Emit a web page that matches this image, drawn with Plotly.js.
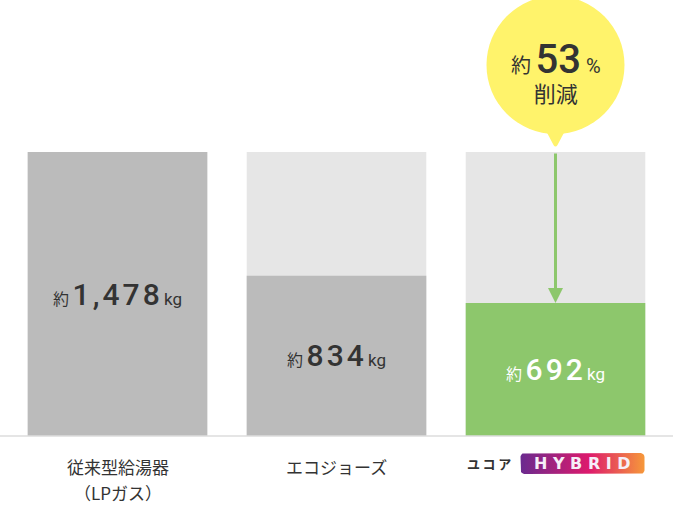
<!DOCTYPE html>
<html>
<head>
<meta charset="utf-8">
<script src="https://cdn.plot.ly/plotly-3.0.1.min.js"></script>
<style>html,body{margin:0;padding:0;background:#fff;}#chart{width:673px;height:505px;}</style>
</head>
<body>
<div id="chart"></div>
<script>
// ---- data ----
const categories = ['従来型給湯器', 'エコジョーズ', 'ユコア HYBRID'];
const categorySub = ['（LPガス）', '', ''];
const emissionsKg = [1478, 834, 692];          // CO2 emissions, kg (approx.)
const labelPrefix = '約';
const labelUnit = 'kg';
const reductionPct = 53;                        // 約53%削減
const reductionText = '削減';
const badgeText = 'HYBRID';
const badgeBrand = 'ユコア';

// ---- styling ----
const JP = '"Noto Sans CJK JP", "Noto Sans", sans-serif';
const txt = '#333333';
const barColors = ['#bbbbbb', '#bbbbbb', '#8dc76c'];
const labelColors = ['#333333', '#333333', '#ffffff'];
const bgColor = '#e6e6e6';

const xs = categories.map((_, i) => i);
const maxV = Math.max(...emissionsKg);
const PX_PER_UNIT = 284 / maxV;     // max bar is 284 px tall
const BASE_PX = 436, H = 505, W = 673;
const yRange = [-(H - BASE_PX) / PX_PER_UNIT, BASE_PX / PX_PER_UNIT];
const xUnitPx = 219, x0px = 117.5;
const xRange = [-x0px / xUnitPx, (W - x0px) / xUnitPx];

const dx = px => px / xUnitPx;
const dy = px => px / PX_PER_UNIT;
const spaced = (s, sp) => s.split('').join(sp);

const bg = {
  type: 'bar', x: xs, y: xs.map(() => maxV), width: 0.82,
  marker: {color: bgColor}, hoverinfo: 'skip', showlegend: false
};
const fg = {
  type: 'bar', x: xs, y: emissionsKg, width: 0.82,
  marker: {color: barColors}, hoverinfo: 'skip', showlegend: false
};

function roundedRect(cx, cy, wPx, hPx, rPx) {
  const X = [], Y = [];
  const corners = [[wPx/2 - rPx, hPx/2 - rPx, 0], [-wPx/2 + rPx, hPx/2 - rPx, 90],
                   [-wPx/2 + rPx, -hPx/2 + rPx, 180], [wPx/2 - rPx, -hPx/2 + rPx, 270]];
  corners.forEach(([ox, oy, a0]) => {
    for (let k = 0; k <= 6; k++) {
      const a = (a0 + k * 15) * Math.PI / 180;
      X.push(cx + dx(ox + rPx * Math.cos(a)));
      Y.push(cy + dy(oy + rPx * Math.sin(a)));
    }
  });
  X.push(X[0]); Y.push(Y[0]);
  return {X, Y};
}
const badgeCx = 2 + dx(27), badgeCy = -dy(27.5);
const rr = roundedRect(badgeCx, badgeCy, 124, 21, 4);
const badge = {
  type: 'scatter', x: rr.X, y: rr.Y, mode: 'lines', fill: 'toself',
  line: {width: 0, color: 'rgba(0,0,0,0)'},
  fillgradient: {type: 'horizontal', colorscale: [[0, '#6a2a8f'], [0.55, '#dd1a6c'], [1, '#f6983a']]},
  hoverinfo: 'skip', showlegend: false
};

const annotations = [];
emissionsKg.forEach((v, i) => {
  annotations.push({
    x: i, y: v / 2, xref: 'x', yref: 'y', showarrow: false,
    text: `<span style="font-size:16px">${labelPrefix} </span><span style="font-family:Roboto;font-size:30px;font-weight:500">${spaced(v.toLocaleString('en-US'), '\u200A')}</span><span style="font-family:Roboto;font-size:17px"> ${labelUnit}</span>`,
    font: {family: JP, color: labelColors[i], size: 16}
  });
});
categories.forEach((c, i) => {
  if (i === 2) return;
  annotations.push({x: i, y: 0, xref: 'x', yref: 'y', yshift: -30, showarrow: false,
    text: c, font: {family: JP, size: 17, color: txt}});
  if (categorySub[i]) annotations.push({x: i, y: 0, xref: 'x', yref: 'y', yshift: -56, showarrow: false,
    text: categorySub[i], font: {family: JP, size: 17, color: txt}});
});
annotations.push({x: 2, y: 0, xref: 'x', yref: 'y', xshift: -67, yshift: -27, showarrow: false,
  text: `<b>${spaced(badgeBrand, '\u2009')}</b>`, font: {family: JP, size: 13, color: '#333333'}});
annotations.push({x: badgeCx, y: badgeCy, xref: 'x', yref: 'y', showarrow: false,
  text: `<b>${spaced(badgeText, ' ')}</b>`, font: {family: 'DejaVu Sans', size: 16, color: '#f6eef8'}});

annotations.push({x: 2, y: emissionsKg[2], ax: 2, ay: maxV, xref: 'x', yref: 'y', axref: 'x', ayref: 'y',
  text: '', showarrow: true, arrowhead: 2, arrowsize: 1, arrowwidth: 3, arrowcolor: '#8dc76c', standoff: 0, startstandoff: 0});

annotations.push({x: 2, y: maxV, xref: 'x', yref: 'y', yshift: 80, showarrow: false,
  text: `<span style="font-size:20px">${labelPrefix} </span><span style="font-family:Roboto;font-size:40px;font-weight:500">${reductionPct}</span><span style="font-family:Roboto;font-size:20px"> %</span><br>${reductionText}`,
  font: {family: JP, color: txt, size: 22}});

const shapes = [
  {type: 'line', xref: 'paper', x0: 0, x1: 1, yref: 'y', y0: 0, y1: 0, line: {color: '#dddddd', width: 1.5}, layer: 'above'},
  {type: 'circle', xref: 'x', yref: 'y', xsizemode: 'pixel', ysizemode: 'pixel', xanchor: 2, yanchor: maxV,
   x0: -69, x1: 69, y0: 18, y1: 156, fillcolor: '#fff36b', line: {width: 0}, layer: 'above'},
  {type: 'path', xref: 'x', yref: 'y', xsizemode: 'pixel', ysizemode: 'pixel', xanchor: 2, yanchor: maxV,
   path: 'M -12,26 L 12,26 L 2,7 Q 0,4 -2,7 Z', fillcolor: '#fff36b', line: {width: 0}, layer: 'above'}
];

const layout = {
  width: W, height: H, margin: {l: 0, r: 0, t: 0, b: 0},
  paper_bgcolor: '#ffffff', plot_bgcolor: '#ffffff',
  barmode: 'overlay', showlegend: false,
  xaxis: {range: xRange, visible: false, fixedrange: true},
  yaxis: {range: yRange, visible: false, fixedrange: true},
  annotations, shapes
};
Plotly.newPlot('chart', [bg, fg, badge], layout, {displayModeBar: false, staticPlot: true});
</script>
</body>
</html>
